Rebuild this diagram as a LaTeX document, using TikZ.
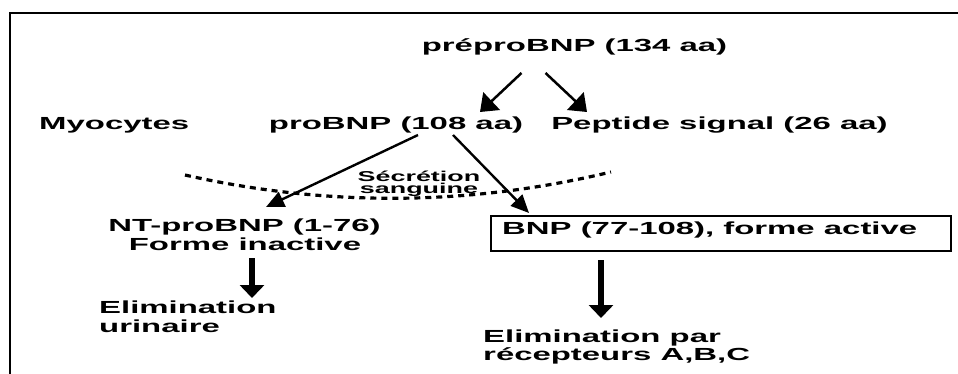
\documentclass[tikz,border=0pt]{standalone}
\usepackage{fontspec}
\setmainfont{Liberation Sans}[FakeStretch=1.88]
\usetikzlibrary{arrows.meta}
\begin{document}
\begin{tikzpicture}[x=1pt,y=-1pt,
  lbl/.style={font=\bfseries\fontsize{17.5}{21}\selectfont, inner sep=0pt},
  small/.style={font=\bfseries\fontsize{14.3}{12}\selectfont, inner sep=0pt},
  thin arrow/.style={line width=2.5pt, -{Triangle[length=16pt,width=24pt]}},
  mid arrow/.style={line width=2.4pt, -{Triangle[length=18pt,width=16pt]}},
  fat arrow/.style={line width=6.5pt, -{Triangle[length=13pt,width=24pt]}},
  sep line/.style={line width=3.2pt, dash pattern=on 6pt off 5pt}]
\useasboundingbox (0,0) rectangle (958,374);
\draw[line width=1.3pt] (10,374) -- (10,13) -- (958,13);
% dashed separation
\coordinate (dl) at (185,175);
\coordinate (dr) at (611,172);
\draw[sep line] (dl) .. controls (327,207) and (469,206) .. (dr);
% texts
\node[lbl, anchor=base] (pre) at (574.5,52) {préproBNP (134 aa)};
\node[lbl, anchor=base west] (myo) at (39,130) {Myocytes};
\node[lbl, anchor=base] (pro) at (396,130) {proBNP (108 aa)};
\node[lbl, anchor=base] (sig) at (719.5,130) {Peptide signal (26 aa)};
\node[small, anchor=base] (sec1) at (419,181.5) {Sécrétion};
\node[small, anchor=base] (sec2) at (419,194) {sanguine};
\node[lbl, anchor=base] (nt1) at (244.5,232) {NT-proBNP (1-76)};
\node[lbl, anchor=base] (nt2) at (245,251) {Forme inactive};
\node[draw, line width=2.2pt, anchor=north west, minimum width=460pt, minimum height=35pt, inner sep=0pt] (box) at (490,215) {};
\node[lbl, anchor=base west] (bnp) at (502,234) {BNP (77-108), forme active};
\node[lbl, anchor=base west] (el1) at (99,313) {Elimination};
\node[lbl, anchor=base west] (el2) at (99,332) {urinaire};
\node[lbl, anchor=base west] (er1) at (483,342) {Elimination par};
\node[lbl, anchor=base west] (er2) at (483,360) {récepteurs A,B,C};
% arrows
\draw[thin arrow] ([shift={(-53,21)}]pre.base) -- ([shift={(84,-18)}]pro.base);
\draw[thin arrow] ([shift={(-29,21)}]pre.base) -- ([shift={(-132.5,-18)}]sig.base);
\draw[mid arrow] ([shift={(22,5)}]pro.base) -- ([shift={(21.5,-25)}]nt1.base);
\draw[mid arrow] ([shift={(57,5)}]pro.base) -- ([shift={(39,-2)}]box.north west);
\draw[fat arrow] ([shift={(7,7)}]nt2.base) -- ([shift={(153,-15)}]el1.base west);
\draw[fat arrow] ([shift={(111,8)}]box.south west) -- ([shift={(118,-24)}]er1.base west);
\end{tikzpicture}
\end{document}
